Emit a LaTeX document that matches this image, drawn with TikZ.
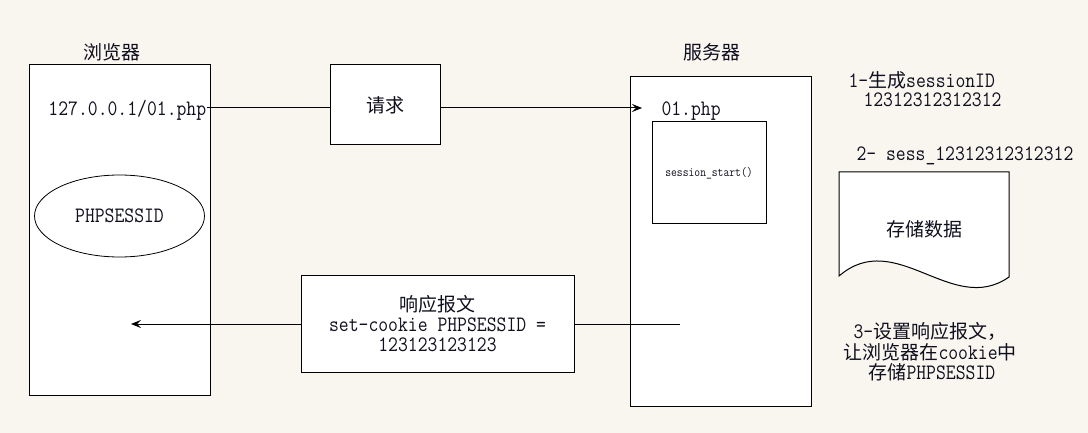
\documentclass[tikz,border=0pt]{standalone}
\usepackage{fontspec}
\setmainfont[FakeStretch=0.87]{Latin Modern Mono}
\newfontfamily\cjkfont{Noto Sans CJK SC}
\newcommand\zh[1]{{\fontsize{19}{20}\selectfont\cjkfont #1}}
\usetikzlibrary{arrows.meta,shapes.geometric}
\definecolor{bg}{RGB}{249,246,240}
\definecolor{ink}{RGB}{15,15,30}
\begin{document}
\begin{tikzpicture}[x=1pt,y=-1pt,line width=1pt,
  box/.style={draw=black,fill=white,inner sep=0pt,align=center,text=ink,font=\fontsize{22}{20}\selectfont},
  txt/.style={inner sep=0pt,text=ink,font=\fontsize{22}{20}\selectfont},
  arr/.style={-{Stealth[length=10pt,width=8pt,inset=4pt]}}]
\fill[bg] (0,0) rectangle (1088,433);
\useasboundingbox (0,0) rectangle (1088,433);

% labels
\node[txt] (brlabel) at (112,52) {\zh{浏览器}};
\node[txt] (srvlabel) at (712,52) {\zh{服务器}};

% browser
\node[box,minimum width=181,minimum height=330] (browser) at (119.5,230) {};
\node[txt,anchor=base west] (url) at (48,116) {127.0.0.1/01.php};
\node[box,ellipse,minimum width=170,minimum height=82,line width=0.8pt] (sid) at (119.5,216) {PHPSESSID};

% request
\node[box,minimum width=110,minimum height=80] (req) at (385,105) {\zh{请求}};

% server
\node[box,minimum width=181,minimum height=329] (server) at (720.5,241.5) {};
\node[txt,anchor=base west] (php) at (661,116) {01.php};
\node[box,minimum width=114,minimum height=102,font=\fontsize{13}{13}\selectfont] (inner) at (709,173) {session\_start()};

% response
\node[box,minimum width=273,minimum height=97] (resp) at (437.5,323.5) {\zh{响应报文}\\set-cookie PHPSESSID =\\123123123123};

% connectors
\coordinate (urlend) at (207,108);
\coordinate (phpin) at (642,108);
\draw (urlend) -- (urlend -| req.west);
\draw[arr] (urlend -| req.east) -- (phpin);
\coordinate (srvout) at (680,324);
\coordinate (brin) at (131,324);
\draw (srvout) -- (srvout -| resp.east);
\draw[arr] (srvout -| resp.west) -- (brin);

% notes
\node[txt,anchor=base west] (n1a) at (848,88) {1-\zh{生成}sessionID};
\node[txt,anchor=base west] (n1b) at (863,107) {12312312312312};
\node[txt,anchor=base west] (n2) at (856,161) {2- sess\_12312312312312};

% document shape
\draw[fill=white] (839,172) -- (1009,172) -- (1009,277) .. controls (952,317) and (896,227) .. (839,276) -- cycle;
\node[txt] (store) at (924,229) {\zh{存储数据}};

\node[txt,anchor=base west] (n3a) at (853,338) {3-\zh{设置响应报文，}};
\node[txt,anchor=base west] (n3b) at (843,359) {\zh{让浏览器在}cookie\zh{中}};
\node[txt,anchor=base west] (n3c) at (868,379) {\zh{存储}PHPSESSID};
\end{tikzpicture}
\end{document}
